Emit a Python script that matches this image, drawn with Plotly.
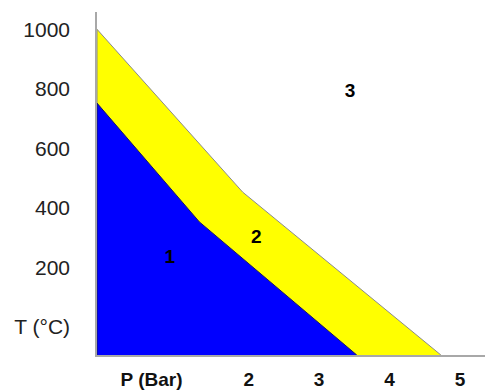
import plotly.graph_objects as go

# phase regions, pressure (bar) vs temperature (C)
p_region2 = [-0.154, -0.154, 1.915, 4.73]
t_region2 = [-94, 1000, 453, -94]
p_region1 = [-0.154, -0.154, 1.30, 3.535]
t_region1 = [-94, 752, 353, -94]

# region labels
label_text = ["1", "2", "3"]
label_p = [0.88, 2.11, 3.44]
label_t = [232, 299, 789]

# axis ticks
t_ticks = [0, 200, 400, 600, 800, 1000]
t_ticktext = ["T (°C)", "200", "400", "600", "800", "1000"]
p_ticks = [0.62, 2, 3, 4, 5]
p_ticktext = ["P (Bar)", "2", "3", "4", "5"]

fig = go.Figure()
fig.add_trace(go.Scatter(x=p_region2, y=t_region2, fill='toself', mode='lines',
                         fillcolor='#ffff00', line=dict(color='#8a8a8a', width=1),
                         hoverinfo='skip'))
fig.add_trace(go.Scatter(x=p_region1, y=t_region1, fill='toself', mode='lines',
                         fillcolor='#0000ff', line=dict(color='#1a1a60', width=1),
                         hoverinfo='skip'))
fig.add_trace(go.Scatter(x=label_p, y=label_t, mode='text', text=label_text,
                         textfont=dict(family='Liberation Sans, Arial', size=19, color='black'),
                         texttemplate='<b>%{text}</b>', hoverinfo='skip'))

# page body has an 8px margin, so the figure is sized to fit inside it
fig.update_layout(
    width=485, height=383,
    margin=dict(l=89, r=0, t=4, b=36),
    paper_bgcolor='white', plot_bgcolor='white',
    showlegend=False,
    font=dict(family='Liberation Sans, Arial', color='#222'),
    xaxis=dict(range=[-0.154, 5.47], showgrid=False, zeroline=False, automargin=False,
               showline=True, linecolor='#a8a8a8', linewidth=1.5,
               tickvals=p_ticks, ticktext=[f'<b>{t}</b>' for t in p_ticktext],
               tickfont=dict(size=19, color='#111'), ticks='', ticklabelstandoff=6),
    yaxis=dict(range=[-94, 1058], showgrid=False, zeroline=False, automargin=False,
               showline=True, linecolor='#a8a8a8', linewidth=1.5,
               tickvals=t_ticks, ticktext=t_ticktext,
               tickfont=dict(size=21, color='#222'), ticks='', ticklabelstandoff=21),
)

fig.write_html("out.html")
